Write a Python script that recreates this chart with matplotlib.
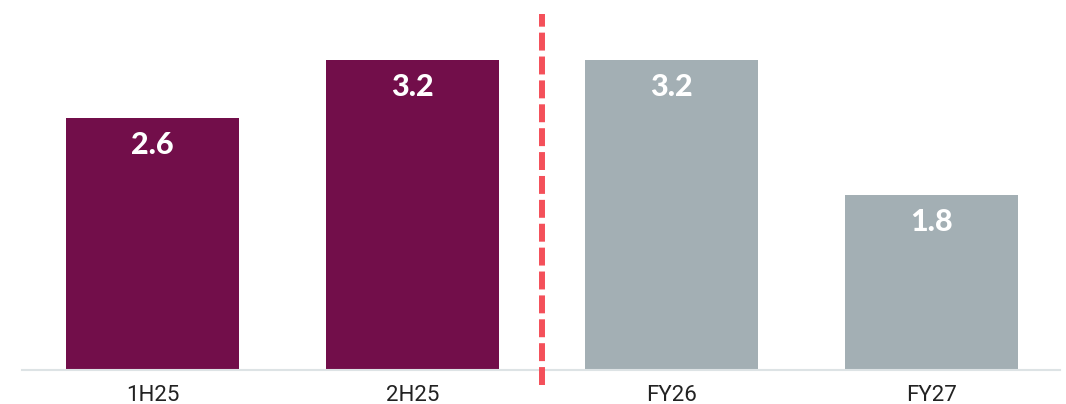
import numpy as np
import matplotlib.pyplot as plt

# -----------------------------
# data
# -----------------------------
categories = ["1H25", "2H25", "FY26", "FY27"]
values = [2.6, 3.2, 3.2, 1.8]
labels = ["2.6", "3.2", "3.2", "1.8"]
bar_colors = ["#720E4A", "#720E4A", "#A3AFB4", "#A3AFB4"]

plt.rcParams['font.family'] = ['Lato', 'DejaVu Sans']

fig = plt.figure(figsize=(10.66, 4.04), dpi=100)
ax = fig.add_axes([22 / 1066, 34 / 404, 1038 / 1066, 356 / 404])

x = np.arange(len(categories))
bars = ax.bar(x, values, width=0.667, color=bar_colors, zorder=2)

ax.set_xlim(-0.503, 3.495)
ax.set_ylim(0, 356 / 97.0)

# value labels inside the bars, near the top
for xi, v, lab in zip(x, values, labels):
    ax.annotate(lab, (xi, v), xytext=(0, -19.5), textcoords="offset points",
                ha="center", va="center", color="white",
                fontsize=22, fontweight="black")

# dashed divider between actuals and forecast
ax.axvline(1.5, ymin=-0.042, ymax=1.0, color="#F4505A", linewidth=4.3,
           dashes=(3, 1), clip_on=False, zorder=3)

for side in ["top", "right", "left"]:
    ax.spines[side].set_visible(False)
ax.spines["bottom"].set_color("#DDE3E5")
ax.spines["bottom"].set_linewidth(1.5)

ax.set_yticks([])
ax.set_xticks(x)
ax.set_xticklabels(categories, fontsize=16, color="#222222", family=["Roboto", "DejaVu Sans"])
ax.tick_params(axis="x", length=0, pad=10.5)

fig.savefig("out.png", dpi=100)
